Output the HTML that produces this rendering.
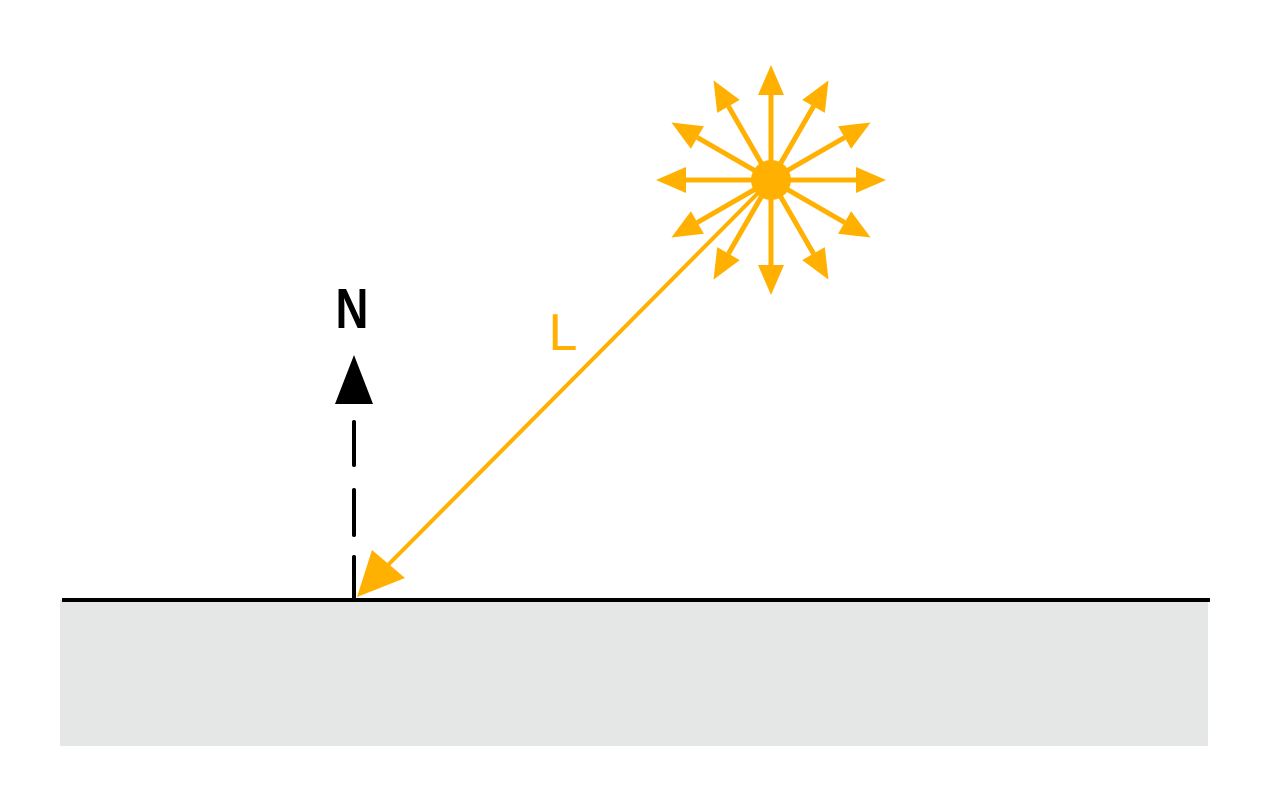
<!DOCTYPE html>
<html><head><meta charset="utf-8"><style>html,body{margin:0;padding:0;background:#fff}svg{display:block}</style></head>
<body>
<svg width="1265" height="796" viewBox="0 0 1265 796">
<rect x="60" y="600" width="1148" height="146" fill="#e5e7e6"/>
<line x1="62" y1="600" x2="1210" y2="600" stroke="#000" stroke-width="4"/>
<g>
<path d="M354 598 V557 M354 535 V490 M354 465 V422" stroke="#000" stroke-width="4" stroke-linecap="round"/>
<polygon points="354,355 335,404 373,404" fill="#000"/>
</g>
<text x="352" y="328" text-anchor="middle" transform="translate(352 0) scale(0.8 1) translate(-352 0)" font-family="Liberation Sans, sans-serif" font-size="57" font-weight="bold" fill="#000">N</text>
<g>
<line x1="771" y1="180" x2="385" y2="568" stroke="#ffb000" stroke-width="4"/>
<polygon points="357,597 372,550 405,578" fill="#ffb000"/>
</g>
<text x="563" y="350" text-anchor="middle" font-family="Liberation Sans, sans-serif" font-size="52" fill="#ffb000">L</text>
<g id="sun">
<circle cx="771" cy="180" r="20" fill="#ffb000"/>
</g>
<script>
const g=document.getElementById('sun');
const ns='http://www.w3.org/2000/svg';
for(let i=0;i<12;i++){
 const a=i*Math.PI/6, cx=771, cy=180, L=115, H=30, W=13;
 const dx=Math.cos(a), dy=Math.sin(a);
 const tx=cx+dx*L, ty=cy+dy*L, bx=cx+dx*(L-H), by=cy+dy*(L-H);
 const ln=document.createElementNS(ns,'line');
 ln.setAttribute('x1',cx);ln.setAttribute('y1',cy);ln.setAttribute('x2',bx);ln.setAttribute('y2',by);
 ln.setAttribute('stroke','#ffb000');ln.setAttribute('stroke-width','5');
 
 
 g.appendChild(ln);
 const p=document.createElementNS(ns,'polygon');
 p.setAttribute('points',`${tx},${ty} ${bx-dy*W},${by+dx*W} ${bx+dy*W},${by-dx*W}`);
 p.setAttribute('fill','#ffb000');
 
 
 g.appendChild(p);
}
</script>
</svg>
</body></html>
